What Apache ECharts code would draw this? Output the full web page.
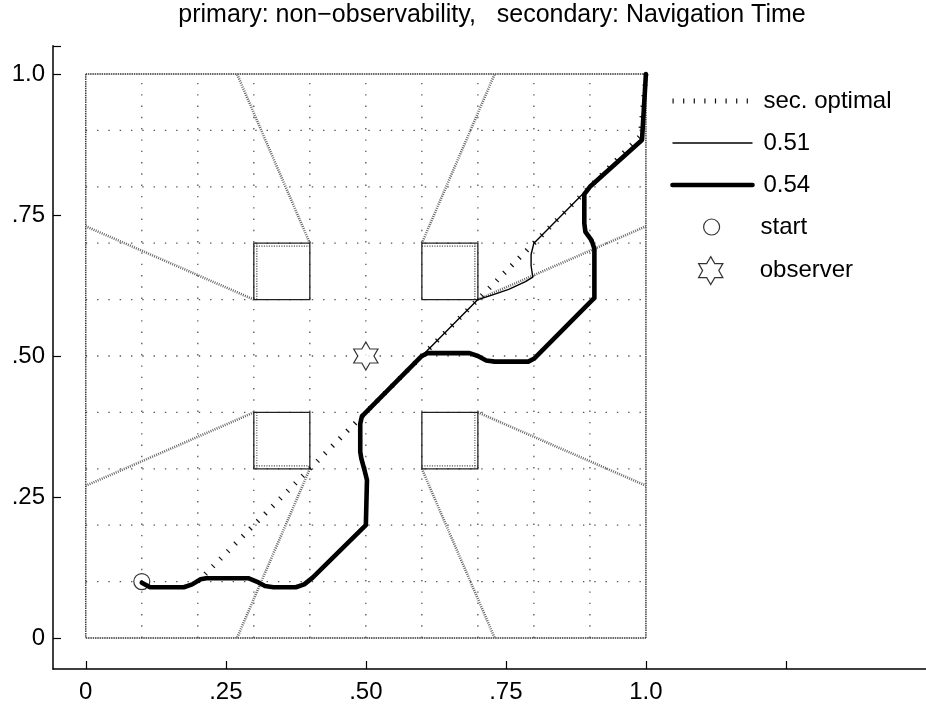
<!DOCTYPE html>
<html>
<head>
<meta charset="utf-8">
<script src="https://cdn.jsdelivr.net/npm/echarts@6/dist/echarts.min.js"></script>
<style>
  html, body { margin: 0; padding: 0; background: #fff; }
  #chart { width: 926px; height: 704px; }
</style>
</head>
<body>
<div id="chart"></div>
<script>
// axis ticks
const xTicks = [0, 0.25, 0.5, 0.75, 1.0, 1.25];
const xTickLabels = ['0', '.25', '.50', '.75', '1.0', ''];
const yTicks = [0, 0.25, 0.5, 0.75, 1.0, 1.05];
const yTickLabels = ['0', '.25', '.50', '.75', '1.0', ''];

// dotted grid inside the field
const gridLines = [0.1, 0.2, 0.3, 0.4, 0.5, 0.6, 0.7, 0.8, 0.9];
// field border [x1, y1, x2, y2]
const fieldBorder = [[0, 0, 1, 0], [1, 0, 1, 1], [1, 1, 0, 1], [0, 1, 0, 0]];
// obstacles: lower-left corners, side 0.1
const obstacles = [[0.3, 0.6], [0.6, 0.6], [0.3, 0.3], [0.6, 0.3]];
const obstacleSide = 0.1;
// visibility boundaries [x1, y1, x2, y2]
const shadowLines = [
  [0.4, 0.7, 0.27, 1.0],
  [0.3, 0.6, 0.0, 0.73],
  [0.6, 0.7, 0.73, 1.0],
  [0.7, 0.6, 1.0, 0.73],
  [0.3, 0.4, 0.0, 0.27],
  [0.4, 0.3, 0.27, 0.0],
  [0.6, 0.3, 0.73, 0.0],
  [0.7, 0.4, 1.0, 0.27]
];

const secOptimal = [[0.2, 0.1], [0.99, 0.89], [1.0, 1.0]];

const path054 = [
  [0.1, 0.098], [0.115, 0.09], [0.175, 0.09], [0.19, 0.095], [0.205, 0.104], [0.215, 0.106],
  [0.29, 0.106], [0.305, 0.1], [0.32, 0.092], [0.335, 0.09], [0.375, 0.09], [0.39, 0.095],
  [0.405, 0.107], [0.5, 0.2], [0.502, 0.28], [0.497, 0.3], [0.492, 0.318], [0.49, 0.33],
  [0.49, 0.38], [0.493, 0.393], [0.5, 0.4], [0.6, 0.5], [0.61, 0.505], [0.685, 0.505],
  [0.7, 0.5], [0.715, 0.492], [0.73, 0.49], [0.79, 0.49], [0.8, 0.495], [0.908, 0.603],
  [0.908, 0.69], [0.903, 0.705], [0.892, 0.72], [0.89, 0.735], [0.89, 0.787], [0.9, 0.8],
  [0.993, 0.883], [1.0, 1.0]
];

const path051 = [
  [0.1, 0.098], [0.115, 0.09], [0.175, 0.09], [0.19, 0.095], [0.205, 0.104], [0.215, 0.106],
  [0.29, 0.106], [0.305, 0.1], [0.32, 0.092], [0.335, 0.09], [0.375, 0.09], [0.39, 0.095],
  [0.405, 0.107], [0.5, 0.2], [0.502, 0.28], [0.497, 0.3], [0.492, 0.318], [0.49, 0.33],
  [0.49, 0.38], [0.493, 0.393], [0.5, 0.4], [0.6, 0.5], [0.7, 0.6], [0.725, 0.608],
  [0.755, 0.618], [0.785, 0.632], [0.798, 0.64], [0.795, 0.66], [0.795, 0.68], [0.8, 0.7],
  [0.9, 0.8], [0.993, 0.883], [1.0, 1.0]
];

const startPoint = [[0.1, 0.1]];
const observerPoint = [[0.5, 0.5]];

const titleText = 'primary: non\u2212observability,   secondary: Navigation Time';

const FONT = '"Liberation Sans", Arial, Helvetica, sans-serif';
const STAR = 'path://M50 0 L64.43 25 L93.3 25 L78.87 50 L93.3 75 L64.43 75 L50 100 L35.57 75 L6.7 75 L21.13 50 L6.7 25 L35.57 25 Z';

// grid segments built from the grid positions
const gridSegments = [];
gridLines.forEach(g => {
  gridSegments.push([g, 0, g, 1]);
  gridSegments.push([0, g, 1, g]);
});

function segmentSeries(data, style, z) {
  return {
    type: 'custom',
    coordinateSystem: 'cartesian2d',
    silent: true,
    z: z,
    data: data,
    renderItem: (params, api) => {
      const p1 = api.coord([api.value(0), api.value(1)]);
      const p2 = api.coord([api.value(2), api.value(3)]);
      return {
        type: 'line',
        shape: { x1: p1[0], y1: p1[1], x2: p2[0], y2: p2[1] },
        style: style
      };
    }
  };
}

const legendText = { fontSize: 24, color: '#000', fontFamily: FONT, lineHeight: 24 };

const chart = echarts.init(document.getElementById('chart'));

const option = {
  backgroundColor: '#fff',
  animation: false,
  textStyle: { fontFamily: FONT },
  graphic: [{
    type: 'text',
    x: 492,
    y: 15,
    style: {
      text: titleText,
      fontSize: 25,
      fontFamily: FONT,
      fill: '#000',
      align: 'center',
      verticalAlign: 'middle'
    }
  }],
  grid: { left: 53, top: 45.8, width: 879.5, height: 623.2 },
  xAxis: {
    type: 'value',
    min: -0.0585,
    max: 1.5,
    splitLine: { show: false },
    axisLine: { onZero: false, lineStyle: { color: '#000', width: 1.5 } },
    axisTick: { inside: true, length: 8, customValues: xTicks, lineStyle: { color: '#000', width: 1.2 } },
    axisLabel: {
      customValues: xTicks,
      margin: 11,
      fontSize: 24,
      color: '#000',
      fontFamily: FONT,
      formatter: v => xTickLabels[xTicks.indexOf(v)] ?? ''
    }
  },
  yAxis: {
    type: 'value',
    min: -0.055,
    max: 1.05,
    splitLine: { show: false },
    axisLine: { onZero: false, lineStyle: { color: '#000', width: 1.5 } },
    axisTick: { inside: true, length: 8, customValues: yTicks, lineStyle: { color: '#000', width: 1.2 } },
    axisLabel: {
      customValues: yTicks,
      margin: 8,
      fontSize: 24,
      color: '#000',
      fontFamily: FONT,
      formatter: v => yTickLabels[yTicks.indexOf(v)] ?? ''
    }
  },
  legend: [
    {
      data: ['sec. optimal', '0.51', '0.54'],
      orient: 'vertical',
      left: 670,
      top: 89,
      padding: 0,
      itemWidth: 80,
      itemHeight: 14,
      itemGap: 18,
      selectedMode: false,
      lineStyle: { width: 'inherit' },
      textStyle: Object.assign({ padding: [0, 0, 0, 6] }, legendText)
    },
    {
      data: ['start'],
      orient: 'vertical',
      left: 703,
      top: 215,
      padding: 0,
      itemWidth: 80,
      itemHeight: 16,
      selectedMode: false,
      itemStyle: { borderWidth: 'inherit' },
      textStyle: Object.assign({ padding: [0, 0, 0, 4] }, legendText)
    },
    {
      data: ['observer'],
      orient: 'vertical',
      left: 698,
      top: 256,
      padding: 0,
      itemWidth: 80,
      itemHeight: 28,
      selectedMode: false,
      itemStyle: { borderWidth: 'inherit' },
      textStyle: Object.assign({ padding: [0, 0, 0, 4] }, legendText)
    }
  ],
  series: [
    segmentSeries(gridSegments, { stroke: '#555', lineWidth: 1.3, lineDash: [1.4, 9.9] }, 1),
    segmentSeries(fieldBorder, { stroke: '#333', lineWidth: 1.4, lineDash: [1.5, 0.8] }, 2),
    segmentSeries(shadowLines, { stroke: '#666', lineWidth: 2.6, lineDash: [1, 1.2] }, 2),
    {
      type: 'custom',
      name: 'obstacles',
      coordinateSystem: 'cartesian2d',
      silent: true,
      z: 3,
      data: obstacles,
      renderItem: (params, api) => {
        const x0 = api.value(0);
        const y0 = api.value(1);
        const tl = api.coord([x0, y0 + obstacleSide]);
        const br = api.coord([x0 + obstacleSide, y0]);
        const obs = api.coord(observerPoint[0]);
        const cx = (tl[0] + br[0]) / 2;
        const cy = (tl[1] + br[1]) / 2;
        const inset = 3;
        const dotted = { stroke: '#555', lineWidth: 1.2, lineDash: [1.2, 1.3] };
        const sideX = cx < obs[0] ? tl[0] + inset : br[0] - inset;
        const sideY = cy < obs[1] ? tl[1] + inset : br[1] - inset;
        return {
          type: 'group',
          children: [
            { type: 'line', shape: { x1: sideX, y1: tl[1], x2: sideX, y2: br[1] }, style: dotted },
            { type: 'line', shape: { x1: tl[0], y1: sideY, x2: br[0], y2: sideY }, style: dotted },
            {
              type: 'rect',
              shape: { x: tl[0], y: tl[1], width: br[0] - tl[0], height: br[1] - tl[1] },
              style: { fill: 'none', stroke: '#222', lineWidth: 1.3 }
            }
          ]
        };
      }
    },
    {
      type: 'line',
      name: 'sec. optimal',
      data: secOptimal,
      z: 4,
      symbol: 'none',
      showSymbol: false,
      itemStyle: { color: 'rgba(0,0,0,0)' },
      lineStyle: { color: '#111', width: 5, type: [1.2, 9.4], cap: 'butt' }
    },
    {
      type: 'line',
      name: '0.51',
      data: path051,
      z: 5,
      symbol: 'none',
      showSymbol: false,
      itemStyle: { color: 'rgba(0,0,0,0)' },
      lineStyle: { color: '#000', width: 1.4, join: 'round' }
    },
    {
      type: 'line',
      name: '0.54',
      data: path054,
      z: 6,
      symbol: 'none',
      showSymbol: false,
      itemStyle: { color: 'rgba(0,0,0,0)' },
      lineStyle: { color: '#000', width: 4.6, join: 'round', cap: 'round' }
    },
    {
      type: 'scatter',
      name: 'start',
      data: startPoint,
      z: 7,
      symbol: 'circle',
      symbolSize: 16,
      itemStyle: { color: 'rgba(255,255,255,0)', borderColor: '#000', borderWidth: 1.2 }
    },
    {
      type: 'scatter',
      name: 'observer',
      data: observerPoint,
      z: 7,
      symbol: STAR,
      symbolSize: 28,
      symbolKeepAspect: true,
      itemStyle: { color: '#fff', borderColor: '#000', borderWidth: 1.2 }
    }
  ]
};

chart.setOption(option);
window.addEventListener('resize', () => chart.resize());
</script>
</body>
</html>
